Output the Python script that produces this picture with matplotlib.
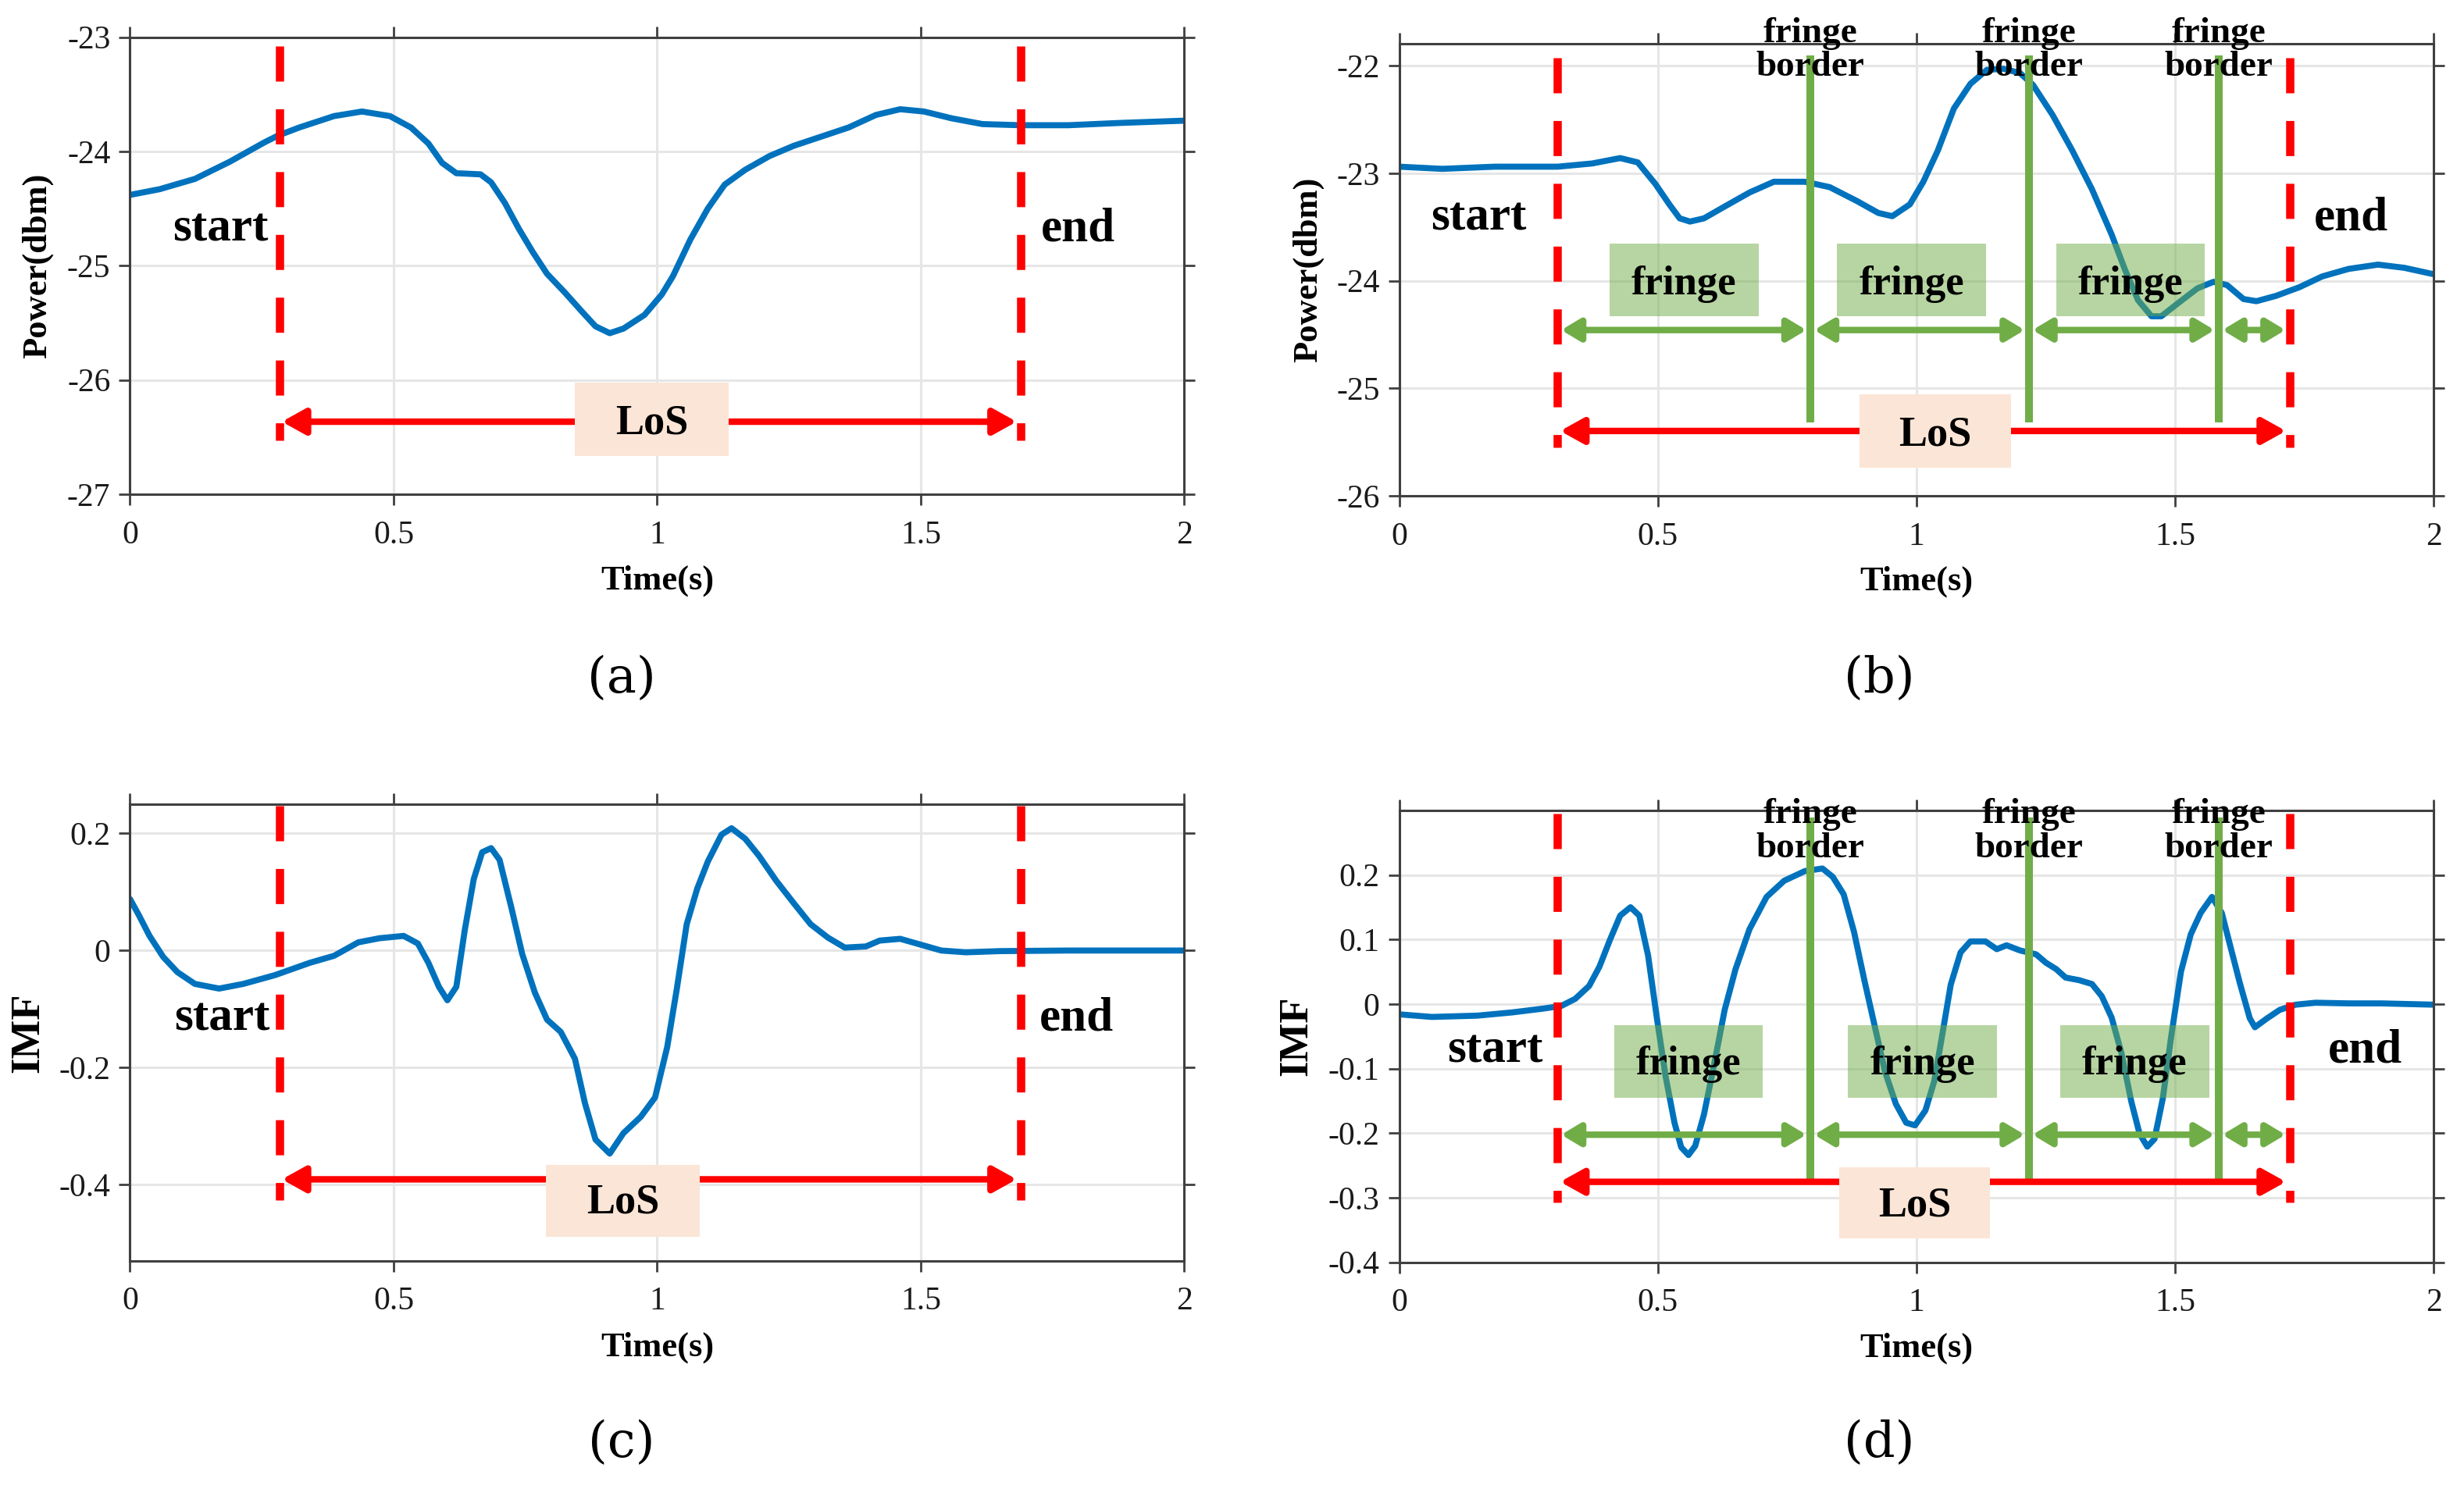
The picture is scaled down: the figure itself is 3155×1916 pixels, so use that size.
import matplotlib
matplotlib.use("Agg")
import matplotlib.pyplot as plt
from matplotlib.patches import Rectangle
from matplotlib.ticker import FormatStrFormatter

plt.rcParams['font.family'] = 'Liberation Serif'
plt.rcParams['axes.unicode_minus'] = False

# ---- data ----
time_ticks = [0, 0.5, 1, 1.5, 2]

t_a = [0.0, 0.056, 0.123, 0.189, 0.255, 0.281, 0.321, 0.387, 0.44, 0.493, 0.533, 0.566,
       0.592, 0.619, 0.665, 0.685, 0.711, 0.738, 0.764, 0.791, 0.824, 0.857, 0.883, 0.91,
       0.936, 0.976, 1.009, 1.03, 1.063, 1.096, 1.128, 1.167, 1.213, 1.259, 1.311, 1.363,
       1.415, 1.461, 1.506, 1.559, 1.617, 1.689, 1.78, 1.878, 2.0]
power_a = [-24.38, -24.33, -24.24, -24.09, -23.92, -23.86, -23.79, -23.69, -23.65, -23.69,
           -23.79, -23.93, -24.10, -24.19, -24.20, -24.27, -24.45, -24.68, -24.88, -25.07,
           -25.23, -25.40, -25.53, -25.59, -25.55, -25.43, -25.25, -25.09, -24.77, -24.50,
           -24.29, -24.16, -24.04, -23.95, -23.87, -23.79, -23.68, -23.63, -23.65, -23.71,
           -23.76, -23.77, -23.77, -23.75, -23.73]

t_b = [0.0, 0.083, 0.184, 0.306, 0.373, 0.427, 0.461, 0.495, 0.522, 0.542, 0.562, 0.589,
       0.629, 0.677, 0.724, 0.784, 0.832, 0.885, 0.926, 0.953, 0.987, 1.013, 1.041, 1.072,
       1.104, 1.136, 1.168, 1.2, 1.225, 1.263, 1.301, 1.339, 1.377, 1.403, 1.428, 1.454,
       1.473, 1.505, 1.543, 1.574, 1.6, 1.632, 1.657, 1.695, 1.74, 1.784, 1.835, 1.892,
       1.943, 2.0]
power_b = [-22.94, -22.96, -22.94, -22.94, -22.91, -22.86, -22.90, -23.10, -23.29, -23.42,
           -23.45, -23.42, -23.31, -23.18, -23.08, -23.08, -23.13, -23.26, -23.37, -23.40,
           -23.29, -23.08, -22.79, -22.40, -22.17, -22.04, -22.03, -22.07, -22.18, -22.46,
           -22.79, -23.15, -23.57, -23.90, -24.18, -24.33, -24.33, -24.21, -24.07, -24.01,
           -24.04, -24.17, -24.19, -24.14, -24.06, -23.96, -23.89, -23.85, -23.88, -23.94]

t_c = [0.0, 0.017, 0.037, 0.063, 0.09, 0.123, 0.169, 0.215, 0.275, 0.341, 0.387, 0.433,
       0.473, 0.519, 0.546, 0.566, 0.586, 0.602, 0.619, 0.635, 0.652, 0.668, 0.685, 0.701,
       0.724, 0.744, 0.768, 0.791, 0.817, 0.844, 0.863, 0.883, 0.91, 0.936, 0.969, 0.996,
       1.019, 1.037, 1.056, 1.076, 1.096, 1.122, 1.141, 1.167, 1.193, 1.226, 1.259, 1.291,
       1.324, 1.356, 1.396, 1.422, 1.461, 1.5, 1.539, 1.585, 1.65, 1.78, 2.0]
imf_c = [0.088, 0.060, 0.025, -0.011, -0.037, -0.057, -0.065, -0.057, -0.042, -0.021,
         -0.009, 0.014, 0.021, 0.025, 0.012, -0.021, -0.062, -0.085, -0.062, 0.035, 0.122,
         0.168, 0.175, 0.155, 0.071, -0.006, -0.072, -0.118, -0.139, -0.185, -0.261, -0.323,
         -0.347, -0.312, -0.284, -0.251, -0.165, -0.067, 0.045, 0.106, 0.152, 0.198, 0.209,
         0.191, 0.162, 0.119, 0.081, 0.045, 0.022, 0.005, 0.007, 0.017, 0.020, 0.010, 0.0,
         -0.003, -0.001, 0.0, 0.0]

t_d = [0.0, 0.063, 0.151, 0.218, 0.279, 0.313, 0.34, 0.367, 0.387, 0.407, 0.427, 0.447,
       0.464, 0.481, 0.498, 0.515, 0.532, 0.545, 0.559, 0.572, 0.589, 0.609, 0.629, 0.65,
       0.677, 0.71, 0.744, 0.784, 0.818, 0.838, 0.859, 0.879, 0.899, 0.919, 0.939, 0.96,
       0.98, 0.997, 1.017, 1.034, 1.047, 1.066, 1.085, 1.104, 1.133, 1.155, 1.174, 1.2,
       1.231, 1.25, 1.27, 1.288, 1.314, 1.339, 1.358, 1.377, 1.396, 1.415, 1.431, 1.446,
       1.46, 1.476, 1.492, 1.511, 1.53, 1.549, 1.571, 1.59, 1.606, 1.625, 1.644, 1.654,
       1.676, 1.702, 1.733, 1.771, 1.835, 1.898, 2.0]
imf_d = [-0.016, -0.020, -0.018, -0.013, -0.007, -0.003, 0.008, 0.028, 0.058, 0.099, 0.137,
         0.150, 0.137, 0.075, -0.022, -0.113, -0.184, -0.222, -0.234, -0.220, -0.171, -0.092,
         -0.009, 0.054, 0.116, 0.166, 0.191, 0.206, 0.210, 0.197, 0.170, 0.112, 0.037,
         -0.034, -0.105, -0.155, -0.184, -0.188, -0.165, -0.120, -0.060, 0.030, 0.080, 0.097,
         0.097, 0.085, 0.091, 0.083, 0.077, 0.064, 0.054, 0.041, 0.037, 0.031, 0.012, -0.021,
         -0.076, -0.151, -0.201, -0.221, -0.209, -0.146, -0.051, 0.050, 0.108, 0.141, 0.166,
         0.141, 0.091, 0.032, -0.022, -0.036, -0.023, -0.009, -0.001, 0.002, 0.001, 0.001,
         -0.001]

los_ac = [0.283, 1.689]          # start / end of LoS in (a), (c)
los_bd = [0.306, 1.721]          # start / end of LoS in (b), (d)
fringe_borders = [0.795, 1.217, 1.584]

BLUE = '#0072BD'
RED = '#FF0000'
GREEN = '#70AD47'
PEACH = '#FBE5D6'

fig = plt.figure(figsize=(15.775, 9.58), dpi=200)
ax_a = fig.add_axes([0.05277, 0.66962, 0.42789, 0.30548])
ax_b = fig.add_axes([0.56789, 0.66848, 0.41990, 0.30209])
ax_c = fig.add_axes([0.05277, 0.15730, 0.42789, 0.30511])
ax_d = fig.add_axes([0.56789, 0.15630, 0.41990, 0.30198])


def setup(ax, ylim, yticks, ylabel, ylab_x, ylab_size):
    ax.set_xlim(0, 2)
    ax.set_ylim(*ylim)
    ax.set_xticks(time_ticks)
    ax.set_yticks(yticks)
    ax.xaxis.set_major_formatter(FormatStrFormatter('%g'))
    ax.yaxis.set_major_formatter(FormatStrFormatter('%g'))
    ax.set_axisbelow(True)
    ax.grid(True, color='#E6E6E6', lw=1.1)
    for s in ax.spines.values():
        s.set_color('#404040')
        s.set_linewidth(1.1)
    ax.tick_params(direction='out', top=True, right=True, length=5, width=1,
                   color='#404040', labelsize=15, labelcolor='#1a1a1a')
    ax.tick_params(axis='x', pad=7)
    ax.tick_params(axis='y', pad=4)
    ax.set_xlabel('Time(s)', fontsize=16, fontweight='bold')
    ax.xaxis.set_label_coords(0.5, -0.19)
    ax.xaxis.label.set_va('center')
    ax.set_ylabel(ylabel, fontsize=ylab_size, fontweight='bold')
    ax.yaxis.set_label_coords(ylab_x, 0.5)
    ax.yaxis.label.set_va('center')


def curve(ax, t, v):
    ax.plot(t, v, color=BLUE, lw=2.8, solid_joinstyle='round', solid_capstyle='round',
            zorder=2)


def red_marks(ax, los, top, bottom, arrow_y, box, text_y):
    for x in los:
        ax.plot([x, x], [top, bottom], color=RED, lw=3.8, dashes=(4.26, 3.36),
                dash_capstyle='butt', zorder=4)
    ax.annotate('', xy=(los[1] - 0.007, arrow_y), xytext=(los[0] + 0.005, arrow_y),
                arrowprops=dict(arrowstyle='<|-|>,head_length=0.45,head_width=0.25',
                                color=RED, lw=3, shrinkA=0, shrinkB=0, mutation_scale=20),
                zorder=4.5)
    x0, x1, y0, y1 = box
    ax.add_patch(Rectangle((x0, y0), x1 - x0, y1 - y0, facecolor=PEACH,
                           edgecolor='none', zorder=5))
    ax.text((x0 + x1) / 2, text_y, 'LoS', ha='center', va='baseline', fontsize=19.5,
            fontweight='bold', zorder=6)


def start_end(ax, xs, y):
    ax.text(xs[0], y, 'start', ha='center', va='baseline', fontsize=22,
            fontweight='bold', zorder=6)
    ax.text(xs[1], y, 'end', ha='center', va='baseline', fontsize=22,
            fontweight='bold', zorder=6)


def green_marks(ax, los, top, bottom, arrow_y, boxes, box_y, text_y, lab_y):
    for x in fringe_borders:
        ax.plot([x, x], [top, bottom], color=GREEN, lw=3.6, solid_capstyle='butt',
                zorder=4)
        ax.text(x, lab_y[0], 'fringe', ha='center', va='baseline', fontsize=17,
                fontweight='bold', zorder=6, clip_on=False)
        ax.text(x, lab_y[1], 'border', ha='center', va='baseline', fontsize=17,
                fontweight='bold', zorder=6, clip_on=False)
    edges = [los[0]] + fringe_borders + [los[1]]
    for i in range(len(edges) - 1):
        ax.annotate('', xy=(edges[i + 1] - 0.008, arrow_y), xytext=(edges[i] + 0.007, arrow_y),
                    arrowprops=dict(arrowstyle='<|-|>,head_length=0.5,head_width=0.3',
                                    color=GREEN, lw=3, shrinkA=0, shrinkB=0,
                                    mutation_scale=14.4),
                    zorder=4)
    for x0, x1 in boxes:
        ax.add_patch(Rectangle((x0, box_y[0]), x1 - x0, box_y[1] - box_y[0],
                               facecolor=GREEN, alpha=0.5, edgecolor='none', zorder=3))
        ax.text((x0 + x1) / 2, text_y, 'fringe', ha='center', va='baseline', fontsize=19,
                fontweight='bold', zorder=6)


# (a)
setup(ax_a, (-27, -23), [-27, -26, -25, -24, -23], 'Power(dbm)', -0.0878, 16)
curve(ax_a, t_a, power_a)
red_marks(ax_a, los_ac, -23.075, -26.53, -26.365, (0.844, 1.136, -26.666, -26.02), -26.47)
start_end(ax_a, (0.171, 1.798), -24.78)

# (b)
setup(ax_b, (-26, -21.8), [-26, -25, -24, -23, -22], 'Power(dbm)', -0.0878, 16)
curve(ax_b, t_b, power_b)
red_marks(ax_b, los_bd, -21.925, -25.546, -25.396, (0.889, 1.182, -25.735, -25.055), -25.527)
green_marks(ax_b, los_bd, -21.903, -25.318, -24.458,
            [(0.406, 0.695), (0.846, 1.134), (1.27, 1.557)], (-24.33, -23.655), -24.125,
            (-21.785, -22.097))
start_end(ax_b, (0.154, 1.84), -23.528)

# (c)
setup(ax_c, (-0.53, 0.25), [-0.4, -0.2, 0, 0.2], 'IMF', -0.0964, 19)
curve(ax_c, t_c, imf_c)
red_marks(ax_c, los_ac, 0.248, -0.427, -0.391, (0.789, 1.081, -0.4886, -0.366), -0.449)
start_end(ax_c, (0.174, 1.795), -0.136)

# (d)
setup(ax_d, (-0.4, 0.3), [-0.4, -0.3, -0.2, -0.1, 0, 0.1, 0.2], 'IMF', -0.0991, 19)
curve(ax_d, t_d, imf_d)
red_marks(ax_d, los_bd, 0.2955, -0.307, -0.2755, (0.850, 1.142, -0.3633, -0.2527), -0.328)
green_marks(ax_d, los_bd, 0.289, -0.2737, -0.2025,
            [(0.415, 0.703), (0.867, 1.156), (1.277, 1.566)], (-0.145, -0.033), -0.109,
            (0.281, 0.2275))
start_end(ax_d, (0.185, 1.867), -0.09)

for lab, x, y in [('(a)', 0.2522, 0.546), ('(b)', 0.7627, 0.546),
                  ('(c)', 0.2522, 0.035), ('(d)', 0.7627, 0.035)]:
    fig.text(x, y, lab, ha='center', va='center', fontsize=23, family='DejaVu Serif')

fig.savefig('out.png', dpi=200)
